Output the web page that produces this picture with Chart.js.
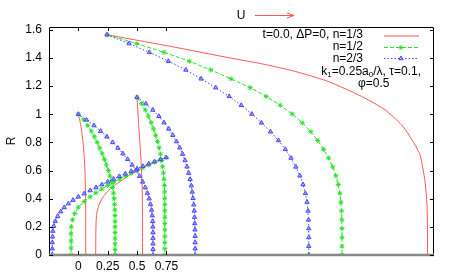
<!DOCTYPE html>
<html>
<head>
<meta charset="utf-8">
<script src="https://cdn.jsdelivr.net/npm/chart.js@4"></script>
<style>
  html, body { margin: 0; padding: 0; background: #fff; }
  #wrap { width: 457px; height: 277px; }
</style>
</head>
<body>
<div id="wrap"><canvas id="chart" width="457" height="277"></canvas></div>
<script>
// axis ticks
const xTicks = [0, 0.25, 0.5, 0.75];
const yTicks = [0, 0.2, 0.4, 0.6, 0.8, 1.0, 1.2, 1.4, 1.6];

// group A : starts at (0, 1.0)
const rA = [1.00, 0.96, 0.92, 0.88, 0.84, 0.80, 0.76, 0.72, 0.68, 0.64, 0.60, 0.56, 0.52, 0.48, 0.44, 0.40, 0.36, 0.32, 0.28, 0.24, 0.20, 0.16, 0.12, 0.08, 0.04, 0];
const greenA_x = [0, 0.045, 0.08, 0.11, 0.137, 0.16, 0.182, 0.203, 0.222, 0.24, 0.256, 0.27, 0.282, 0.292, 0.30, 0.305, 0.309, 0.311, 0.312, 0.313, 0.313, 0.313, 0.313, 0.313, 0.313, 0.313];
const blueA_x = [0, 0.07, 0.133, 0.19, 0.243, 0.292, 0.337, 0.38, 0.42, 0.458, 0.492, 0.522, 0.548, 0.57, 0.588, 0.603, 0.615, 0.624, 0.63, 0.633, 0.635, 0.636, 0.636, 0.636, 0.636, 0.636];
const redA_x = [0, 0.014, 0.025, 0.04, 0.05, 0.056, 0.06, 0.062, 0.063, 0.063];
const redA_r = [1.0, 0.95, 0.9, 0.8, 0.7, 0.6, 0.5, 0.4, 0.25, 0];

// group B : starts at (0.5, 1.12)
const rB = [1.12, 1.075, 1.03, 0.986, 0.941, 0.896, 0.851, 0.806, 0.762, 0.717, 0.672, 0.627, 0.582, 0.538, 0.493, 0.448, 0.403, 0.358, 0.314, 0.269, 0.224, 0.179, 0.134, 0.09, 0.045, 0];
const greenB_x = [0.5, 0.538, 0.57, 0.597, 0.62, 0.64, 0.658, 0.674, 0.688, 0.7, 0.71, 0.718, 0.725, 0.73, 0.733, 0.735, 0.736, 0.737, 0.737, 0.737, 0.737, 0.737, 0.737, 0.737, 0.737, 0.737];
const blueB_x = [0.5, 0.575, 0.635, 0.686, 0.73, 0.77, 0.805, 0.836, 0.864, 0.888, 0.909, 0.926, 0.94, 0.952, 0.962, 0.97, 0.977, 0.983, 0.987, 0.99, 0.992, 0.994, 0.995, 0.995, 0.995, 0.995];
const redB_x = [0.5, 0.512, 0.524, 0.534, 0.54, 0.544, 0.546, 0.547, 0.547];
const redB_r = [1.12, 0.95, 0.8, 0.67, 0.57, 0.47, 0.37, 0.25, 0];

// group C : starts at (0.245, 1.565)
const rC = [1.565, 1.502, 1.44, 1.377, 1.315, 1.252, 1.189, 1.127, 1.064, 1.002, 0.939, 0.876, 0.814, 0.751, 0.689, 0.626, 0.563, 0.501, 0.438, 0.376, 0.313, 0.25, 0.188, 0.125, 0.063, 0];
const greenC_x = [0.245, 0.498, 0.73, 0.946, 1.128, 1.30, 1.464, 1.60, 1.72, 1.822, 1.907, 1.98, 2.04, 2.09, 2.132, 2.167, 2.194, 2.214, 2.228, 2.237, 2.242, 2.245, 2.246, 2.246, 2.246, 2.246];
const blueC_x = [0.245, 0.432, 0.605, 0.767, 0.916, 1.046, 1.17, 1.285, 1.388, 1.478, 1.56, 1.637, 1.705, 1.763, 1.812, 1.853, 1.887, 1.914, 1.934, 1.948, 1.957, 1.961, 1.963, 1.963, 1.963, 1.963];
const redC_x = [0.245, 0.8, 1.293, 1.56, 1.845, 2.129, 2.413, 2.612, 2.754, 2.825, 2.91, 2.953, 2.97, 2.975, 2.975];
const redC_r = [1.565, 1.48, 1.40, 1.359, 1.305, 1.233, 1.127, 1.032, 0.925, 0.842, 0.714, 0.525, 0.36, 0.18, 0];

// group D : from (0.75, 0.69) down to the left
const greenD_x = [0.75, 0.70, 0.65, 0.60, 0.55, 0.50, 0.45, 0.40, 0.35, 0.30, 0.25, 0.20, 0.15, 0.10, 0.05, 0.0, -0.03, -0.05, -0.06, -0.062, -0.062, -0.062, -0.062];
const greenD_r = [0.694, 0.676, 0.658, 0.639, 0.62, 0.601, 0.581, 0.56, 0.539, 0.517, 0.494, 0.469, 0.442, 0.413, 0.38, 0.34, 0.295, 0.25, 0.2, 0.15, 0.1, 0.05, 0];
const blueD_x = [0.748, 0.70, 0.65, 0.60, 0.55, 0.50, 0.45, 0.40, 0.35, 0.30, 0.25, 0.20, 0.15, 0.10, 0.05, 0.0, -0.045, -0.085, -0.12, -0.15, -0.176, -0.197, -0.21, -0.217, -0.22, -0.222, -0.222, -0.222];
const blueD_r = [0.693, 0.679, 0.664, 0.648, 0.631, 0.613, 0.595, 0.577, 0.559, 0.54, 0.52, 0.50, 0.479, 0.458, 0.436, 0.413, 0.39, 0.365, 0.338, 0.308, 0.275, 0.24, 0.205, 0.17, 0.13, 0.09, 0.045, 0];
const redD_x = [0.75, 0.65, 0.55, 0.45, 0.37, 0.3, 0.245, 0.205, 0.178, 0.16, 0.152, 0.149, 0.148];
const redD_r = [0.694, 0.662, 0.622, 0.575, 0.53, 0.49, 0.448, 0.405, 0.36, 0.31, 0.25, 0.15, 0];

const RED = 'rgb(255,85,85)';
const GREEN = 'rgb(40,225,40)';
const BLUE = 'rgb(70,70,255)';
const BLUE_FILL = 'rgba(140,140,255,0.7)';
const FONT = "'Liberation Sans', Arial, sans-serif";

function pts(xs, rs) {
  return xs.map((x, i) => ({ x: x, y: rs[i] }));
}

function blue(xs, rs) {
  return {
    data: pts(xs, rs), showLine: true, borderColor: BLUE, borderWidth: 1, borderDash: [1.5, 2],
    pointStyle: 'triangle', pointRadius: 2.5, pointBorderWidth: 1,
    pointBorderColor: BLUE, pointBackgroundColor: BLUE_FILL, tension: 0
  };
}
function green(xs, rs) {
  return {
    data: pts(xs, rs), showLine: true, borderColor: GREEN, borderWidth: 1, borderDash: [4, 2],
    pointStyle: 'star', pointRadius: 2.5, pointBorderWidth: 1,
    pointBorderColor: GREEN, pointBackgroundColor: GREEN, tension: 0
  };
}
function red(xs, rs) {
  return {
    data: pts(xs, rs), showLine: true, borderColor: RED, borderWidth: 1,
    pointRadius: 0, tension: 0.2
  };
}

// draws text with subscripts, right aligned at xr
function drawRich(ctx, parts, xr, y) {
  let w = 0;
  parts.forEach(p => {
    ctx.font = (p[1] ? '8px ' : '12px ') + FONT;
    w += ctx.measureText(p[0]).width;
  });
  let x = xr - w;
  ctx.textAlign = 'left';
  parts.forEach(p => {
    ctx.font = (p[1] ? '8px ' : '12px ') + FONT;
    ctx.fillText(p[0], x, p[1] ? y + 3 : y);
    x += ctx.measureText(p[0]).width;
  });
}

const decorations = {
  id: 'decorations',
  afterDraw(chart) {
    const ctx = chart.ctx;
    const a = chart.chartArea;
    const xs = chart.scales.x, ys = chart.scales.y;
    ctx.save();

    // frame
    ctx.strokeStyle = '#000';
    ctx.lineWidth = 1;
    ctx.beginPath();
    ctx.moveTo(a.left + 0.5, a.bottom);
    ctx.lineTo(a.left + 0.5, a.top + 0.5);
    ctx.lineTo(a.right - 0.5, a.top + 0.5);
    ctx.lineTo(a.right - 0.5, a.bottom);
    ctx.stroke();
    ctx.strokeStyle = '#888';
    ctx.lineWidth = 2.5;
    ctx.beginPath();
    ctx.moveTo(a.left, a.bottom);
    ctx.lineTo(a.right, a.bottom);
    ctx.stroke();

    // inward ticks
    ctx.strokeStyle = '#000';
    ctx.lineWidth = 1;
    ctx.beginPath();
    yTicks.forEach(v => {
      const py = Math.round(ys.getPixelForValue(v)) + 0.5;
      ctx.moveTo(a.left, py); ctx.lineTo(a.left + 4, py);
      ctx.moveTo(a.right, py); ctx.lineTo(a.right - 4, py);
    });
    xTicks.forEach(v => {
      const px = Math.round(xs.getPixelForValue(v)) + 0.5;
      ctx.moveTo(px, a.bottom); ctx.lineTo(px, a.bottom - 4);
      ctx.moveTo(px, a.top); ctx.lineTo(px, a.top + 4);
    });
    ctx.stroke();

    // U label with arrow
    ctx.fillStyle = '#000';
    ctx.font = '12px ' + FONT;
    ctx.textBaseline = 'middle';
    ctx.textAlign = 'center';
    ctx.fillText('U', 241, 16);
    ctx.strokeStyle = RED;
    ctx.beginPath();
    ctx.moveTo(255, 15.5); ctx.lineTo(294, 15.5);
    ctx.moveTo(287, 13); ctx.lineTo(294, 15.5); ctx.lineTo(287, 18);
    ctx.stroke();

    // key
    ctx.fillStyle = '#000';
    ctx.textAlign = 'right';
    ctx.fillText('t=0.0, \u0394P=0, n=1/3', 363, 35);
    ctx.fillText('n=1/2', 363, 47);
    ctx.fillText('n=2/3', 363, 59);
    drawRich(ctx, [['k', 0], ['1', 1], ['=0.25a', 0], ['0', 1], ['/\u03bb, \u03c4=0.1,', 0]], 421, 72);
    ctx.textAlign = 'left';
    ctx.font = '12px ' + FONT;
    ctx.fillText('\u03c6=0.5', 358, 84);

    const samples = [[RED, [], 36], [GREEN, [4, 2], 47.5], [BLUE, [1.5, 2], 58.5]];
    samples.forEach(s => {
      ctx.strokeStyle = s[0];
      ctx.setLineDash(s[1]);
      ctx.beginPath();
      ctx.moveTo(384, s[2]); ctx.lineTo(419, s[2]);
      ctx.stroke();
    });
    ctx.setLineDash([]);

    // key markers
    ctx.strokeStyle = GREEN; ctx.fillStyle = GREEN;
    Chart.helpers.drawPoint(ctx, { pointStyle: 'star', radius: 2.5, borderWidth: 1 }, 401, 47.5);
    ctx.strokeStyle = BLUE; ctx.fillStyle = BLUE_FILL;
    Chart.helpers.drawPoint(ctx, { pointStyle: 'triangle', radius: 2.5, borderWidth: 1 }, 401, 58.5);
    ctx.restore();
  }
};

new Chart(document.getElementById('chart').getContext('2d'), {
  type: 'scatter',
  data: {
    datasets: [
      blue(blueA_x, rA), blue(blueB_x, rB), blue(blueC_x, rC), blue(blueD_x, blueD_r),
      green(greenA_x, rA), green(greenB_x, rB), green(greenC_x, rC), green(greenD_x, greenD_r),
      red(redA_x, redA_r), red(redB_x, redB_r), red(redC_x, redC_r), red(redD_x, redD_r)
    ]
  },
  options: {
    responsive: false,
    animation: false,
    layout: { padding: { top: 27, right: 23, left: 0, bottom: 0 } },
    plugins: { legend: { display: false }, tooltip: { enabled: false } },
    scales: {
      x: {
        type: 'linear', min: -0.25, max: 3.03,
        grid: { display: false, drawTicks: false },
        border: { display: false },
        afterBuildTicks: s => { s.ticks = xTicks.map(v => ({ value: v })); },
        afterFit: s => { s.height = 22; },
        ticks: {
          padding: 4, color: '#000', autoSkip: false, maxRotation: 0,
          font: { family: FONT, size: 12 },
          callback: v => String(v)
        }
      },
      y: {
        type: 'linear', min: 0, max: 1.62,
        grid: { display: false, drawTicks: false },
        border: { display: false },
        afterBuildTicks: s => { s.ticks = yTicks.map(v => ({ value: v })); },
        afterFit: s => { s.width = 49; },
        title: { display: true, text: 'R', color: '#000', font: { family: FONT, size: 12 }, padding: { top: 4, bottom: 0 } },
        ticks: {
          padding: 7, color: '#000',
          font: { family: FONT, size: 12 },
          callback: v => String(Math.round(v * 10) / 10)
        }
      }
    }
  },
  plugins: [decorations]
});
</script>
</body>
</html>
